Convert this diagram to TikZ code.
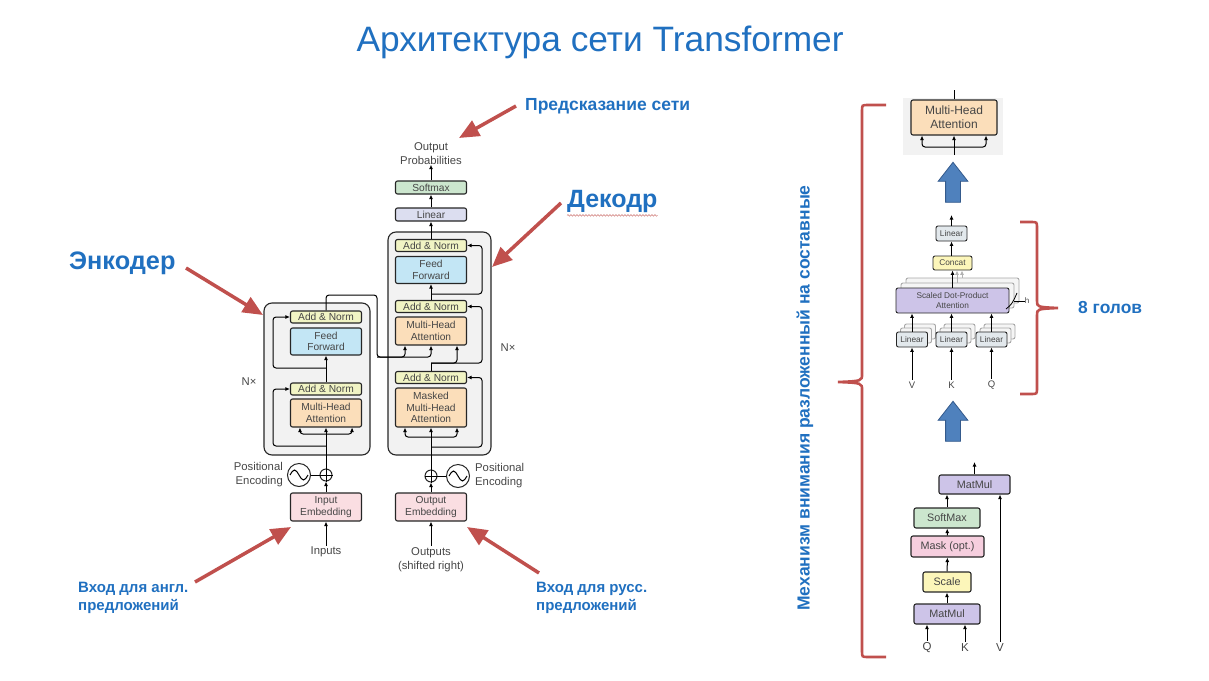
\documentclass[tikz,border=0pt]{standalone}
\usepackage{fontspec}
\setmainfont{Liberation Sans}
\usetikzlibrary{arrows.meta,positioning,shapes.arrows,decorations.pathmorphing}
\definecolor{ttl}{RGB}{32,112,192}
\definecolor{redc}{RGB}{192,80,77}
\definecolor{addc}{RGB}{241,244,196}
\definecolor{ffc}{RGB}{195,230,245}
\definecolor{mhac}{RGB}{251,222,186}
\definecolor{embc}{RGB}{250,222,226}
\definecolor{linc}{RGB}{220,222,240}
\definecolor{smc}{RGB}{204,230,206}
\definecolor{stackc}{RGB}{242,242,242}
\definecolor{txtc}{RGB}{70,70,70}
\definecolor{mmc}{RGB}{205,196,232}
\definecolor{maskc}{RGB}{246,206,222}
\definecolor{sclc}{RGB}{252,246,186}
\definecolor{lintc}{RGB}{226,232,236}
\definecolor{bluar}{RGB}{79,129,189}
\definecolor{bluard}{RGB}{52,90,140}
\begin{document}
\begin{tikzpicture}[x=1pt, y=-1pt,
    box/.style={draw=black!85, line width=1.1pt, rounded corners=2pt, inner sep=0pt, align=center, text=txtc, font=\fontsize{10.2}{11.5}\selectfont},
    addn/.style={box, fill=addc, minimum width=71pt, minimum height=12pt},
    ff/.style={box, fill=ffc, minimum width=71pt, minimum height=27pt},
    mha/.style={box, fill=mhac, minimum width=71pt, minimum height=28pt},
    emb/.style={box, fill=embc, minimum width=71pt, minimum height=28pt},
    stack/.style={draw=black!85, line width=1.1pt, rounded corners=8pt, fill=stackc},
    small/.style={box, font=\fontsize{8.3}{9.5}\selectfont, line width=0.9pt},
    ghost/.style={small, draw=black!35, fill=black!4},
    sdp/.style={box, font=\fontsize{10.8}{12}\selectfont, minimum height=20pt},
    plain/.style={inner sep=0pt, align=center, text=txtc, font=\fontsize{11.3}{14}\selectfont},
    arr/.style={-{Latex[length=4.5pt,width=4pt]}, line width=1pt},
    rc/.style={rounded corners=3pt},
    lbl/.style={text=ttl, inner sep=0pt, align=left, font=\bfseries\fontsize{15}{18}\selectfont},
    redarr/.style={draw=redc, line width=3.5pt, -{Triangle[length=20pt,width=17pt]}},
    brc/.style={draw=redc, line width=2.6pt},
    bigup/.style={single arrow, shape border rotate=90, draw=bluard, line width=0.8pt, fill=bluar, minimum height=40pt, minimum width=29pt, single arrow head extend=7.5pt, single arrow tip angle=76, inner sep=7pt}]
\useasboundingbox (0,0) rectangle (1209,680);

\node[text=ttl, font=\fontsize{35.3}{40}\selectfont] (title) at (600,42) {Архитектура сети Transformer};

% encoder
\node[stack, minimum width=106pt, minimum height=152pt] (encbox) at (317,379) {};
\node[emb] (ienc) at (326,507) {Input\\Embedding};
\node[mha] (emha) at (326,413) {Multi-Head\\Attention};
\node[addn] (ean1) at (326,389) {Add \& Norm};
\node[ff] (eff) at (326,341.5) {Feed\\Forward};
\node[addn] (ean2) at (326,317) {Add \& Norm};
\node[plain] (inp) at (326,552) {Inputs};
\node[plain] (en) at (249,382) {N×};
\node[circle, draw=black!85, line width=1pt, minimum size=23pt, inner sep=0pt] (epe) at (299,475) {};
\node[circle, draw=black!85, line width=1pt, minimum size=12pt, inner sep=0pt] (eadd) at (326,475) {};
\node[plain, anchor=east, align=right] (epl) at (283,475) {Positional\\Encoding};
\draw[line width=1pt] (eadd.north) -- (eadd.south) (eadd.west) -- (eadd.east);
\draw[line width=1pt] (290,475) sin (294.5,470) cos (299,475) sin (303.5,480) cos (308,475);
\draw[line width=1pt] (epe) -- (eadd);
\draw[arr] ([yshift=1pt]inp.north) -- (ienc);
\draw[arr] (ienc) -- (eadd);
\coordinate (efork) at (326,434);
\coordinate (eres1) at (326,446);
\coordinate (eres2) at (326,368);
\draw[line width=1pt] (eadd.north) -- (efork);
\draw[arr] (efork) -- (emha.south);
\draw[arr, rc] (efork) -| ([xshift=-26pt]emha.south);
\draw[arr, rc] (efork) -| ([xshift=26pt]emha.south);
\draw[arr, rc] (eres1) -- (273,446) |- (ean1.west);
\draw[arr] (ean1) -- (eff);
\draw[arr, rc] (eres2) -- (273,368) |- (ean2.west);

% decoder
\node[stack, minimum width=103pt, minimum height=223pt] (decbox) at (439.5,343.5) {};
\node[emb] (denc) at (431,507) {Output\\Embedding};
\node[mha, minimum height=39pt] (dmmha) at (431,407.5) {Masked\\Multi-Head\\Attention};
\node[addn] (dan1) at (431,377.5) {Add \& Norm};
\node[mha] (dmha) at (431,331) {Multi-Head\\Attention};
\node[addn] (dan2) at (431,306.5) {Add \& Norm};
\node[ff] (dff) at (431,270) {Feed\\Forward};
\node[addn] (dan3) at (431,245.5) {Add \& Norm};
\node[box, fill=linc, minimum width=71pt, minimum height=13pt] (lin) at (431,214.5) {Linear};
\node[box, fill=smc, minimum width=71pt, minimum height=13pt] (smax) at (431,187.5) {Softmax};
\node[plain] (outp) at (431,153.5) {Output\\Probabilities};
\node[plain] (outs) at (431,559.5) {Outputs\\(shifted right)};
\node[plain] (dn) at (508,348) {N×};
\node[circle, draw=black!85, line width=1pt, minimum size=12pt, inner sep=0pt] (dadd) at (431,476) {};
\node[circle, draw=black!85, line width=1pt, minimum size=23pt, inner sep=0pt] (dpe) at (458,476) {};
\node[plain, anchor=west, align=left] (dpl) at (475,476) {Positional\\Encoding};
\draw[line width=1pt] (dadd.north) -- (dadd.south) (dadd.west) -- (dadd.east);
\draw[line width=1pt] (449,476) sin (453.5,471) cos (458,476) sin (462.5,481) cos (467,476);
\draw[line width=1pt] (dpe) -- (dadd);
\draw[arr] ([yshift=1pt]outs.north) -- (denc);
\draw[arr] (denc) -- (dadd);
\coordinate (dfork) at (431,437);
\coordinate (dres1) at (431,447);
\coordinate (dq) at (431,363);
\coordinate (dres3) at (431,294);
\coordinate (ekv) at (377,357);
\draw[line width=1pt] (dadd.north) -- (dfork);
\draw[arr] (dfork) -- (dmmha.south);
\draw[arr, rc] (dfork) -| ([xshift=-26pt]dmmha.south);
\draw[arr, rc] (dfork) -| ([xshift=26pt]dmmha.south);
\draw[arr, rc] (dres1) -- (482,447) |- (dan1.east);
\draw[line width=1pt] (dan1.north) -- (dq);
\draw[arr, rc] (dq) -| ([xshift=26pt]dmha.south);
\draw[arr, rc] (dq) -- (482,363) |- (dan2.east);
\draw[arr] (dan2) -- (dff);
\draw[arr, rc] (dres3) -- (482,294) |- (dan3.east);
\draw[arr, rc] (ean2.north) -- (326,295) -| (ekv) -| (dmha.south);
\draw[arr, rc] (ekv) -| ([xshift=-26pt]dmha.south);
\draw[arr] (dan3) -- (lin);
\draw[arr] (lin) -- (smax);
\draw[arr] (smax) -- (outp);

% labels and red arrows
\node[text=ttl, inner sep=0pt, anchor=west, font=\bfseries\fontsize{17.5}{20}\selectfont] (pred) at (525,106) {Предсказание сети};
\node[text=ttl, inner sep=0pt, anchor=west, font=\bfseries\fontsize{25.3}{28}\selectfont] (enct) at (69,263) {Энкодер};
\node[text=ttl, inner sep=0pt, anchor=west, font=\bfseries\fontsize{25}{28}\selectfont] (dect) at (567,201) {Декодр};
\node[lbl, anchor=west] (inen) at (78,598) {Вход для англ.\\предложений};
\node[lbl, anchor=west] (inru) at (536,598) {Вход для русс.\\предложений};
\draw[redc!70, line width=0.6pt, decorate, decoration={snake, amplitude=0.8pt, segment length=3pt}] ([yshift=-3pt]dect.south west) -- ([yshift=-3pt]dect.south east);
\coordinate (p1) at (516,106);
\coordinate (p2) at (186,268);
\coordinate (p3) at (561,203);
\coordinate (p4) at (195,582);
\coordinate (p5) at (539,573);
\draw[redarr] (p1) -- (459,138);
\draw[redarr] (p2) -- (263,315);
\draw[redarr] (p3) -- (492,267);
\draw[redarr] (p4) -- (291,527);
\draw[redarr] (p5) -- (467,527);

% multi-head attention
\node[fill=stackc, minimum width=100pt, minimum height=57pt, inner sep=0pt] (mhpanel) at (953,126.5) {};
\node[mha, minimum width=86pt, minimum height=35pt, font=\fontsize{12}{14}\selectfont] (bigmha) at (954,117.5) {Multi-Head\\Attention};
\coordinate (mhf) at (954,147);
\coordinate (mhtop) at (954,90);
\draw[line width=1pt] (mhpanel.south -| mhf) -- (mhf);
\draw[arr] (mhf) -- (bigmha.south);
\draw[arr, rc] (mhf) -| ([xshift=-32pt]bigmha.south);
\draw[arr, rc] (mhf) -| ([xshift=32pt]bigmha.south);
\draw[line width=1pt] (bigmha.north) -- (mhtop);
\node[bigup] (up1) at (953,187) {};
\node[bigup] (up2) at (953,426) {};

\foreach \d in {10,5} {
  \node[ghost, minimum width=113pt, minimum height=25pt] (sdg\d) at (952.5+\d,300.5-\d) {};
  \node[ghost, minimum width=31pt, minimum height=15pt] (lvg\d) at (912+0.8*\d,339.5-0.8*\d) {};
  \node[ghost, minimum width=31pt, minimum height=15pt] (lkg\d) at (951.5+0.8*\d,339.5-0.8*\d) {};
  \node[ghost, minimum width=31pt, minimum height=15pt] (lqg\d) at (991.5+0.8*\d,339.5-0.8*\d) {};
}
\node[small, fill=mmc, minimum width=113pt, minimum height=25pt] (sdpa) at (952.5,300.5) {Scaled Dot-Product\\Attention};
\node[small, fill=lintc, minimum width=31pt, minimum height=15pt] (lv) at (912,339.5) {Linear};
\node[small, fill=lintc, minimum width=31pt, minimum height=15pt] (lk) at (951.5,339.5) {Linear};
\node[small, fill=lintc, minimum width=31pt, minimum height=15pt] (lq) at (991.5,339.5) {Linear};
\node[small, fill=sclc, minimum width=39pt, minimum height=14pt] (cat) at (952.5,263) {Concat};
\node[small, fill=lintc, minimum width=31pt, minimum height=15pt] (lo) at (951.5,233.5) {Linear};
\node[plain, font=\fontsize{9.5}{11}\selectfont] (vh) at (912,385) {V};
\node[plain, font=\fontsize{9.5}{11}\selectfont] (kh) at (951.5,385) {K};
\node[plain, font=\fontsize{9.5}{11}\selectfont] (qh) at (991.5,385) {Q};
\node[plain, font=\fontsize{8}{9}\selectfont] (hh) at (1027,301) {h};
\draw[line width=0.8pt] (1006,309) .. controls (1012,304) .. (1017,293);
\draw[line width=0.6pt] (1014,301) -- (hh.west);
\draw[arr, line width=0.9pt] ([yshift=2pt]vh.north) -- (lv);
\draw[arr, line width=0.9pt] ([yshift=2pt]kh.north) -- (lk);
\draw[arr, line width=0.9pt] ([yshift=2pt]qh.north) -- (lq);
\foreach \n in {lv,lk,lq} {
  \draw[arr, line width=0.9pt] (\n.north) -- (sdpa.south -| \n.north);
}
\draw[arr, black!30, line width=0.8pt] (sdg5.north -| 957,0) -- (cat.south -| 957,0);
\draw[arr, black!30, line width=0.8pt] (sdg10.north -| 962,0) -- (cat.south -| 962,0);
\draw[arr, line width=0.9pt] (sdpa.north -| 952.5,0) -- (cat.south -| 952.5,0);
\draw[arr, line width=0.9pt] (cat.north -| lo) -- (lo.south);
\coordinate (lotop) at (951.5,215);
\draw[arr, line width=0.9pt] (lo.north) -- (lotop);

\draw[brc] (1020,222) -- (1031,222) .. controls (1037,222) .. (1037,228) -- (1037,301) .. controls (1037,307) .. (1058,308) .. controls (1037,309) .. (1037,315) -- (1037,388) .. controls (1037,394) .. (1031,394) -- (1020,394);
\node[text=ttl, inner sep=0pt, anchor=west, font=\bfseries\fontsize{17.4}{20}\selectfont] (heads) at (1078,308) {8 голов};

% scaled dot-product attention
\node[sdp, fill=mmc, minimum width=71pt, minimum height=19pt] (mm2) at (974.5,484.5) {MatMul};
\node[sdp, fill=smc, minimum width=66pt] (smx) at (947,518) {SoftMax};
\node[sdp, fill=maskc, minimum width=73pt, minimum height=21pt] (msk) at (947.5,546.5) {Mask (opt.)};
\node[sdp, fill=sclc, minimum width=48pt] (scl) at (947,582) {Scale};
\node[sdp, fill=mmc, minimum width=66pt] (mm1) at (947,614) {MatMul};
\node[plain, font=\fontsize{11.5}{13}\selectfont] (qb) at (927,648) {Q};
\node[plain, font=\fontsize{11.5}{13}\selectfont] (kb) at (965,648) {K};
\node[plain, font=\fontsize{11.5}{13}\selectfont] (vb) at (1000,648) {V};
\draw[arr] ([yshift=2pt]qb.north) -- (mm1.south -| qb);
\draw[arr] ([yshift=2pt]kb.north) -- (mm1.south -| kb);
\draw[arr] ([yshift=2pt]vb.north) -- (mm2.south -| vb);
\draw[arr] (mm1) -- (scl);
\draw[arr] (scl) -- (msk);
\draw[arr] (msk) -- (smx);
\draw[arr] (smx.north) -- (mm2.south -| smx.north);
\coordinate (mmtop) at (974.5,462);
\draw[arr] (mm2.north) -- (mmtop);

\draw[brc] (886,105) -- (868,105) .. controls (862,105) .. (862,111) -- (862,374) .. controls (862,381) .. (838,382) .. controls (862,383) .. (862,390) -- (862,651) .. controls (862,657) .. (868,657) -- (886,657);
\node[text=ttl, inner sep=0pt, rotate=90, font=\bfseries\fontsize{17.5}{20}\selectfont] (mech) at (805,398) {Механизм внимания разложенный на составные};
\end{tikzpicture}
\end{document}
